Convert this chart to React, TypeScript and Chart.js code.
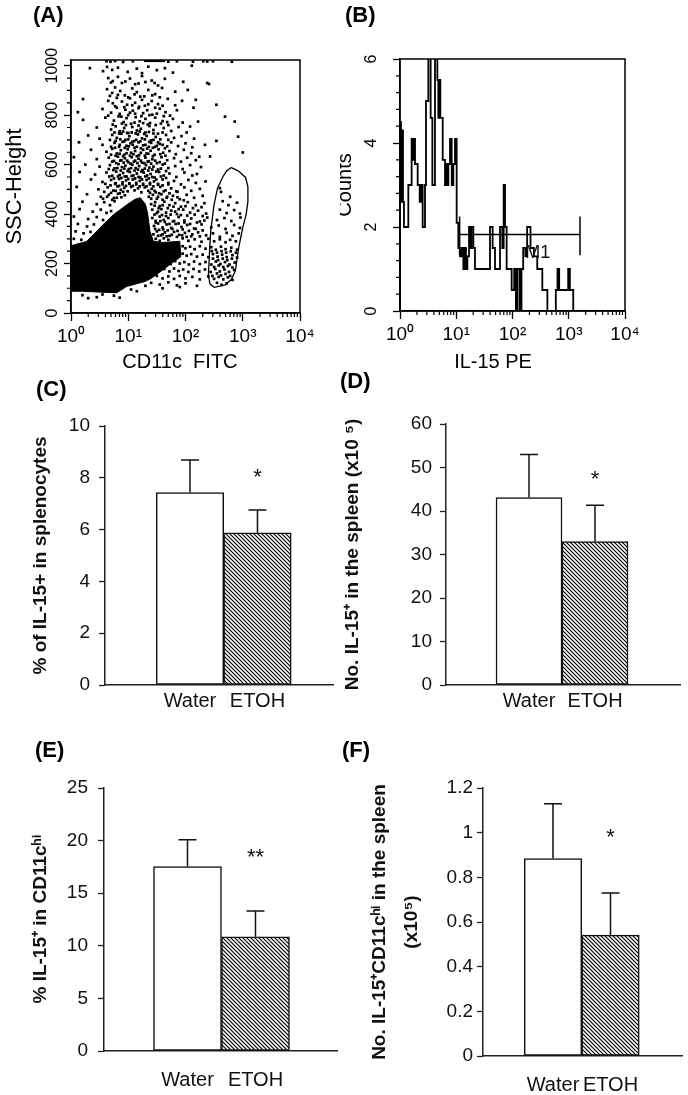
import React, { useEffect, useRef } from "react";
import { Chart, registerables } from "chart.js";

Chart.register(...registerables);
const FONT = "'Liberation Sans', Arial, Helvetica, sans-serif";
Chart.defaults.font.family = FONT;
Chart.defaults.color = "#000";

// ---------------- Panel A : SSC-Height vs CD11c FITC  ([log10 FITC, SSC]) ----------------
const dotsA: [number, number][] = [
  [0.62,1018],[0.69,1016],[0.77,1019],[0.91,1015],[1.08,1018],[1.30,1020],[1.34,1020],[1.38,1020],[1.42,1020],[1.46,1020],[1.50,1020],[1.54,1020],[1.58,1020],[1.62,1020],[1.70,1016],[1.85,1018],[2.13,1016],[2.31,1018],[2.38,1017],[2.48,1018],[2.81,1016],
  [0.33,990],[0.56,978],[0.63,995],[0.72,983],[0.82,992],[0.99,975],[1.15,988],[1.24,970],[1.35,996],[1.50,982],[1.64,990],[1.78,972],[2.11,1000],
  [0.65,950],[0.73,938],[0.82,955],[0.89,930],[1.03,948],[1.12,925],[1.24,958],[1.41,940],[1.52,920],[1.64,947],[1.96,935],[2.38,930],[2.41,926],
  [0.70,932],[0.95,936],[1.18,928],[1.30,934],[1.46,930],
  [0.63,905],[0.72,890],[0.77,912],[0.86,898],[0.94,880],[1.07,908],[1.15,893],[1.21,875],[1.35,902],[1.47,885],[1.59,910],[1.82,895],[2.04,902],
  [0.68,878],[0.82,882],[1.00,872],[1.11,884],[1.28,876],[1.42,880],[1.55,872],
  [0.21,865],[0.65,858],[0.73,848],[0.80,870],[0.89,855],[0.98,842],[1.03,868],[1.12,850],[1.24,862],[1.29,838],[1.41,857],[1.52,845],[1.69,866],[1.82,840],[1.94,858],[2.18,862],[2.54,842],
  [0.77,836],[0.93,832],[1.07,840],[1.19,834],[1.35,844],[1.47,830],[1.60,838],
  [0.12,812],[0.55,825],[0.70,810],[0.80,830],[0.85,805],[0.95,822],[1.00,800],[1.08,818],[1.18,828],[1.26,808],[1.33,820],[1.42,802],[1.55,826],[1.65,812],[1.73,798],[1.85,820],[2.14,830],
  [0.65,798],[0.88,794],[1.03,810],[1.12,806],[1.23,796],[1.37,800],[1.50,806],[1.62,796],
  [0.60,790],[0.75,778],[0.83,795],[0.92,772],[0.97,788],[1.05,765],[1.13,792],[1.20,775],[1.30,785],[1.38,768],[1.47,790],[1.60,776],[1.70,760],[1.78,785],[1.95,770],[2.69,794],[2.86,774],[2.22,774],
  [0.73,762],[0.89,766],[0.96,760],[1.11,770],[1.18,758],[1.26,768],[1.34,762],[1.48,760],[1.57,766],[1.68,772],
  [0.21,781],[0.45,750],[0.70,742],[0.78,755],[0.85,735],[0.93,748],[1.00,728],[1.07,752],[1.15,738],[1.22,745],[1.30,730],[1.37,756],[1.44,740],[1.52,725],[1.62,748],[1.75,736],[1.88,752],[2.02,730],[2.08,754],
  [0.76,730],[0.84,726],[0.91,734],[0.98,728],[1.06,730],[1.13,726],[1.20,734],[1.28,724],[1.36,732],[1.44,726],[1.60,730],
  [0.30,718],[0.50,705],[0.72,720],[0.80,708],[0.88,725],[0.95,700],[1.02,715],[1.10,695],[1.17,722],[1.24,706],[1.32,716],[1.40,698],[1.48,712],[1.56,702],[1.66,720],[1.80,708],[1.93,715],[2.15,705],[2.92,713],
  [0.68,700],[0.78,696],[0.86,702],[0.93,694],[1.00,702],[1.07,692],[1.14,700],[1.21,694],[1.29,702],[1.37,692],[1.44,700],[1.52,690],[1.70,700],
  [0.14,690],[0.55,680],[0.76,688],[0.84,672],[0.90,692],[0.97,676],[1.04,686],[1.11,668],[1.18,690],[1.26,678],[1.33,665],[1.40,688],[1.47,672],[1.55,684],[1.64,666],[1.75,690],[1.87,675],[2.00,686],[2.12,670],[2.34,680],[2.54,696],
  [0.70,672],[0.77,668],[0.85,680],[0.94,668],[1.01,674],[1.08,680],[1.15,672],[1.22,666],[1.30,680],[1.36,672],[1.43,668],[1.50,676],[1.60,680],[1.68,674],
  [0.35,660],[0.62,652],[0.72,664],[0.80,645],[0.87,658],[0.93,640],[0.99,662],[1.05,648],[1.12,655],[1.19,638],[1.26,660],[1.32,645],[1.39,656],[1.46,640],[1.53,662],[1.61,648],[1.72,655],[1.83,642],[1.97,660],[2.10,646],[3.00,649],
  [0.70,640],[0.78,636],[0.85,644],[0.91,634],[0.97,646],[1.03,636],[1.09,642],[1.15,634],[1.22,648],[1.29,636],[1.35,644],[1.43,634],[1.56,642],[1.65,636],
  [0.05,630],[0.45,622],[0.66,628],[0.75,615],[0.82,632],[0.88,618],[0.94,626],[1.00,610],[1.06,630],[1.12,616],[1.18,624],[1.24,608],[1.30,628],[1.36,614],[1.42,622],[1.50,606],[1.58,630],[1.68,618],[1.80,626],[1.92,612],[2.03,628],[2.18,618],[2.24,632],[2.43,633],
  [0.72,612],[0.79,606],[0.86,616],[0.92,608],[0.98,616],[1.04,604],[1.10,612],[1.16,606],[1.22,616],[1.28,606],[1.34,612],[1.40,604],[1.47,616],[1.55,610],[1.64,604],
  [0.25,600],[0.50,592],[0.68,598],[0.76,585],[0.83,602],[0.89,590],[0.95,596],[1.01,582],[1.07,600],[1.13,586],[1.19,594],[1.25,578],[1.31,598],[1.37,588],[1.44,592],[1.52,580],[1.60,600],[1.70,586],[1.82,594],[1.95,582],[2.08,598],[2.27,590],
  [0.66,582],[0.74,578],[0.81,586],[0.87,576],[0.93,584],[0.99,574],[1.05,586],[1.11,576],[1.17,580],[1.23,572],[1.29,584],[1.35,576],[1.42,580],[1.49,572],[1.57,584],[1.66,574],
  [0.15,570],[0.42,560],[0.62,568],[0.72,555],[0.79,572],[0.85,558],[0.91,566],[0.97,552],[1.03,570],[1.09,556],[1.15,564],[1.21,548],[1.27,568],[1.33,556],[1.39,562],[1.46,548],[1.54,570],[1.62,556],[1.72,564],[1.84,550],[1.98,568],[2.12,556],[2.20,562],
  [0.67,552],[0.75,544],[0.82,552],[0.88,546],[0.94,552],[1.00,542],[1.06,554],[1.12,544],[1.18,550],[1.24,540],[1.30,552],[1.36,544],[1.42,550],[1.49,540],[1.57,552],[1.66,546],
  [0.35,540],[0.55,530],[0.70,538],[0.78,525],[0.84,542],[0.90,528],[0.96,536],[1.02,522],[1.08,540],[1.14,526],[1.20,534],[1.26,518],[1.32,538],[1.38,526],[1.45,532],[1.52,518],[1.60,540],[1.70,526],[1.80,534],[1.92,520],[2.05,538],[2.18,526],[2.35,532],
  [0.60,522],[0.69,516],[0.77,522],[0.84,514],[0.90,520],[0.96,514],[1.02,524],[1.08,514],[1.14,520],[1.20,512],[1.26,522],[1.32,512],[1.38,520],[1.44,512],[1.52,522],[1.60,516],[1.70,520],
  [0.10,510],[0.48,500],[0.64,508],[0.74,495],[0.81,512],[0.87,498],[0.93,506],[0.99,492],[1.05,510],[1.11,496],[1.17,504],[1.23,488],[1.29,508],[1.35,494],[1.41,502],[1.48,488],[1.56,510],[1.65,496],[1.75,504],[1.86,490],[1.98,508],[2.10,494],[2.25,502],[2.60,505],
  [0.58,490],[0.70,486],[0.78,494],[0.85,484],[0.91,490],[1.38,486],[1.46,494],[1.54,484],[1.62,492],[1.72,484],[1.84,492],
  [0.28,480],[0.52,470],[0.66,478],[0.75,465],[0.82,482],[0.88,468],[0.94,476],[1.36,470],[1.43,478],[1.50,462],[1.58,480],[1.67,466],[1.78,474],[1.90,460],[2.02,478],[2.15,466],[2.30,474],[2.62,490],[2.78,470],
  [0.56,462],[0.63,470],[0.72,458],[0.80,466],[1.40,462],[1.52,470],[1.60,458],[1.68,470],[1.76,458],[1.86,468],[1.97,456],
  [0.20,450],[0.45,440],[0.58,448],[0.68,436],[0.76,452],[1.40,440],[1.47,448],[1.55,432],[1.63,450],[1.72,436],[1.82,444],[1.92,430],[2.04,448],[2.18,436],[2.33,444],[2.65,452],[2.75,436],[2.90,446],
  [1.46,434],[1.53,424],[1.60,436],[1.69,424],[1.79,430],[1.88,420],[2.00,432],[2.13,424],[2.28,428],
  [0.15,420],[0.38,410],[0.52,418],[0.62,405],[0.70,412],[1.42,418],[1.50,404],[1.58,420],[1.66,406],[1.75,414],[1.85,400],[1.96,418],[2.08,406],[2.22,414],[2.36,402],[2.60,418],[2.72,404],[2.85,416],[2.95,402],
  [1.46,398],[1.52,410],[1.59,396],[1.66,392],[1.74,398],[1.82,410],[1.92,396],[2.03,394],[2.16,398],[2.30,392],
  [0.05,390],[0.30,380],[0.45,388],[0.56,376],[1.42,384],[1.48,372],[1.55,390],[1.62,376],[1.70,384],[1.78,370],[1.88,388],[1.98,374],[2.10,382],[2.25,370],[2.38,386],[2.55,376],[2.68,384],[2.80,372],[2.96,386],
  [1.48,366],[1.56,372],[1.64,368],[1.72,360],[1.80,372],[1.88,362],[1.98,366],[2.08,360],[2.20,366],[2.33,374],
  [0.12,360],[0.28,350],[0.40,358],[1.45,352],[1.52,362],[1.60,346],[1.67,358],[1.75,344],[1.83,360],[1.93,348],[2.03,356],[2.15,342],[2.28,358],[2.45,346],[2.58,354],[2.70,340],[2.85,356],[2.95,344],
  [1.47,340],[1.54,336],[1.61,338],[1.69,334],[1.77,340],[1.86,332],[1.95,338],[2.06,332],[2.18,340],[2.30,334],
  [0.08,330],[0.22,322],[0.34,328],[1.44,318],[1.50,330],[1.57,314],[1.64,326],[1.72,312],[1.80,328],[1.89,316],[1.99,324],[2.10,310],[2.22,326],[2.36,314],[2.48,322],[2.60,308],[2.72,324],[2.82,312],[2.93,322],
  [1.52,312],[1.60,318],[1.67,310],[1.76,316],[1.85,308],[1.94,314],[2.02,308],[2.12,318],[2.25,310],
  [0.05,300],[0.18,296],[1.48,300],[1.55,292],[1.62,302],[1.70,296],[1.95,302],[2.05,292],[2.16,298],[2.28,288],[2.40,300],[2.50,290],[2.60,298],[2.70,286],[2.78,296],[2.88,290],
  [1.95,270],[2.00,262],[2.08,268],[2.16,258],[2.25,270],[2.35,260],[2.45,266],[2.53,256],[2.62,268],[2.70,258],[2.80,264],[2.90,256],
  [2.46,250],[2.55,244],[2.63,250],[2.71,244],[2.79,250],[2.88,244],
  [1.95,240],[2.02,232],[2.10,238],[2.20,228],[2.30,236],[2.40,226],[2.48,238],[2.56,228],[2.64,236],[2.72,226],[2.82,234],[2.90,224],
  [2.48,220],[2.57,214],[2.65,220],[2.73,214],[2.81,220],
  [1.50,210],[1.58,202],[1.66,208],[1.74,198],[1.82,210],[1.90,200],[1.98,206],[2.06,196],[2.15,208],[2.25,198],[2.35,206],[2.45,196],[2.53,208],[2.61,198],[2.69,206],[2.77,196],[2.86,204],
  [2.50,186],[2.58,192],[2.66,186],[2.74,190],[2.82,184],
  [1.48,180],[1.55,172],[1.63,178],[1.72,168],[1.80,180],[1.88,170],[1.96,176],[2.05,166],[2.14,178],[2.24,168],[2.34,176],[2.44,166],[2.52,178],[2.60,168],[2.68,176],[2.76,166],[2.85,174],
  [2.47,150],[2.55,160],[2.62,152],[2.70,158],[2.78,150],
  [1.50,150],[1.60,140],[1.70,148],[1.80,138],[1.90,150],[2.00,140],[2.12,146],[2.25,136],[2.40,148],[2.50,138],[2.58,146],[2.66,136],[2.74,144],[2.82,134],
  [1.40,122],[1.55,115],[1.70,124],[1.85,112],[2.00,120],[2.20,110],[2.55,122],[2.63,114],[2.72,120],
  [0.20,72],[0.45,64],[0.75,70],[1.05,95],[1.30,110],[1.60,100],[1.90,105],[0.30,60],[0.55,75],[0.85,62],[1.15,88],
];
// outline of the saturated (solid black) population
const blobA: [number, number][] = [
  [0,272],[0.27,289],[0.39,316],[0.56,357],[0.74,397],[0.97,437],[1.12,460],[1.21,466],[1.30,440],[1.34,400],
  [1.38,330],[1.44,290],[1.60,285],[1.90,290],[1.92,228],[1.75,200],[1.55,165],[1.40,140],[1.30,128],[0.97,107],
  [0.80,82],[0.55,84],[0.20,88],[0,88],[0,272],
];
// CD11c-high gate
const gateA: [number, number][] = [
  [2.80,588],[2.92,575],[3.05,548],[3.09,510],[3.09,450],[3.06,400],[3.00,345],[2.93,265],[2.87,170],[2.80,135],
  [2.69,114],[2.50,104],[2.43,117],[2.40,150],[2.42,250],[2.44,330],[2.50,440],[2.56,505],[2.65,550],[2.72,575],[2.80,588],
];
const sscTicks = [0, 200, 400, 600, 800, 1000];
const decadeTicks = [1, 10, 100, 1000, 10000];

// ---------------- Panel B : IL-15 PE histogram ([log10 PE, counts], step starts) ----------------
const histB: [number, number][] = [
  [0.000,0],[0.000,4.5],[0.018,2.6],[0.036,4.3],[0.053,2.6],[0.071,2.0],[0.148,3.0],[0.207,4.1],[0.231,3.6],[0.249,4.1],
  [0.267,3.5],[0.314,3.0],[0.350,2.6],[0.373,3.0],[0.403,2.0],[0.444,3.0],[0.462,5.0],[0.504,6.5],[0.545,4.6],[0.575,3.0],
  [0.622,6.5],[0.664,5.5],[0.681,4.6],[0.699,5.5],[0.717,4.6],[0.759,3.6],[0.800,3.0],[0.818,3.5],[0.836,3.0],[0.859,3.5],
  [0.889,4.1],[0.919,3.0],[0.948,3.5],[0.978,4.1],[1.007,2.1],[1.037,1.5],[1.067,1.3],[1.096,1.5],[1.126,1.0],[1.150,1.5],
  [1.173,1.0],[1.198,1.3],[1.227,2.0],[1.250,1.5],[1.270,2.0],[1.304,1.5],[1.333,1.0],[1.600,2.0],[1.647,1.5],[1.689,1.0],
  [1.778,2.0],[1.819,1.5],[1.843,3.0],[1.867,2.0],[1.896,1.0],[1.985,0.5],[2.030,1.0],[2.060,0.0],[2.090,1.0],[2.130,0.0],
  [2.160,1.0],[2.190,1.5],[2.230,1.3],[2.260,2.0],[2.320,1.5],[2.380,1.3],[2.440,1.0],[2.530,0.5],[2.620,0.0],[2.770,0.5],
  [2.800,1.0],[2.830,0.5],[2.990,1.0],[3.020,0.5],[3.080,0.0],[4.000,0.0],
];
const m1Range = [1.06, 3.2];
const m1Level = 1.82;
const m1Caps = [1.33, 2.25];
const countTicks = [0, 2, 4, 6];

// ---------------- Bar panels C-F ----------------
const groups = ["Water", "ETOH"];
const pctSplenocytes = [7.43, 5.88];
const pctSplenocytesErr = [1.26, 0.88];
const numSpleen = [43.1, 32.95];
const numSpleenErr = [9.9, 8.35];
const pctCD11c = [17.53, 10.86];
const pctCD11cErr = [2.55, 2.45];
const numCD11c = [0.884, 0.541];
const numCD11cErr = [0.246, 0.189];
const sigMarks = ["*", "*", "**", "*"];
const sigLevels = [8.17, 48.3, 18.8, 1.0];

const SUP = ["\u2070", "\u00b9", "\u00b2", "\u00b3", "\u2074"];
const toXY = ([l, v]: [number, number]) => ({ x: Math.pow(10, l), y: v });

const logMinors: number[] = [];
for (let e = 0; e < 4; e++) for (let m = 2; m <= 9; m++) logMinors.push(m * Math.pow(10, e));
const sscMinors: number[] = [];
for (let v = 50; v < 1000; v += 50) if (v % 200 !== 0) sscMinors.push(v);
const countMinors: number[] = [];
for (let k = 1; k < 15; k++) if (k % 5 !== 0) countMinors.push(k * 0.4);

const extras = {
  id: "extras",
  afterDraw(chart: any, _a: any, o: any) {
    const ctx = chart.ctx;
    const ca = chart.chartArea;
    const xs = chart.scales.x;
    const ys = chart.scales.y;
    ctx.save();
    ctx.strokeStyle = "#000";
    ctx.fillStyle = "#000";
    if (o.frame) {
      ctx.lineWidth = 1.5;
      ctx.strokeRect(ca.left, ca.top, ca.right - ca.left, ca.bottom - ca.top);
    }
    if (o.minorX) {
      ctx.lineWidth = 1.2;
      ctx.beginPath();
      for (const v of o.minorX) {
        const p = xs.getPixelForValue(v);
        ctx.moveTo(p, ca.bottom);
        ctx.lineTo(p, ca.bottom + o.minorLen);
      }
      ctx.stroke();
    }
    if (o.minorY) {
      ctx.lineWidth = 1.2;
      ctx.beginPath();
      for (const v of o.minorY) {
        const p = ys.getPixelForValue(v);
        ctx.moveTo(ca.left, p);
        ctx.lineTo(ca.left - o.minorLen, p);
      }
      ctx.stroke();
    }
    if (o.rotY) {
      ctx.font = `${o.rotY.size}px ${FONT}`;
      ctx.textAlign = "center";
      ctx.textBaseline = "middle";
      for (const v of o.rotY.values) {
        ctx.save();
        ctx.translate(ca.left - o.rotY.offset, ys.getPixelForValue(v));
        ctx.rotate(-Math.PI / 2);
        ctx.fillText(String(v), 0, 0);
        ctx.restore();
      }
    }
    if (o.err) {
      const meta = chart.getDatasetMeta(0);
      const vals = chart.data.datasets[0].data;
      ctx.lineWidth = 1.5;
      ctx.strokeStyle = "#111";
      meta.data.forEach((bar: any, i: number) => {
        const yTop = ys.getPixelForValue(vals[i].y + o.err[i]);
        ctx.beginPath();
        ctx.moveTo(bar.x, bar.y);
        ctx.lineTo(bar.x, yTop);
        ctx.moveTo(bar.x - o.cap / 2, yTop);
        ctx.lineTo(bar.x + o.cap / 2, yTop);
        ctx.stroke();
      });
    }
    if (o.notes) {
      for (const n of o.notes) {
        ctx.font = `${n.size}px ${FONT}`;
        ctx.textAlign = "center";
        ctx.textBaseline = "middle";
        ctx.fillStyle = "#111";
        ctx.fillText(n.text, xs.getPixelForValue(n.x), ys.getPixelForValue(n.y) + (n.dy || 0));
      }
    }
    if (o.letter) {
      ctx.font = `bold 22px ${FONT}`;
      ctx.textAlign = "left";
      ctx.textBaseline = "middle";
      ctx.fillStyle = "#000";
      ctx.fillText(o.letter.text, o.letter.x, o.letter.y);
    }
    ctx.restore();
  },
};

function logAxis(title: string, height: number, titlePadBottom: number) {
  return {
    type: "logarithmic",
    min: 1,
    max: 10000,
    afterBuildTicks: (s: any) => {
      s.ticks = decadeTicks.map((v) => ({ value: v }));
    },
    afterFit: (s: any) => {
      s.height = height;
    },
    grid: { drawOnChartArea: false, drawTicks: true, tickLength: 8, tickColor: "#000", tickWidth: 1.3 },
    border: { display: true, color: "#000", width: 1.5 },
    ticks: {
      autoSkip: false,
      maxRotation: 0,
      padding: 4,
      font: { size: 19 },
      callback: (v: number) => "10" + SUP[Math.round(Math.log10(v))],
    },
    title: { display: true, text: title, font: { size: 20 }, padding: { top: 0, bottom: titlePadBottom } },
  };
}

function countAxis(max: number, ticks: number[], width: number, title: string, titleSize: number, titlePad: number) {
  return {
    type: "linear",
    min: 0,
    max,
    afterBuildTicks: (s: any) => {
      s.ticks = ticks.map((v) => ({ value: v }));
    },
    afterFit: (s: any) => {
      s.width = width;
    },
    grid: { drawOnChartArea: false, tickLength: 7, tickColor: "#000", tickWidth: 1.3 },
    border: { display: true, color: "#000", width: 1.5 },
    ticks: { display: false },
    title: { display: true, text: title, font: { size: titleSize }, padding: { top: titlePad, bottom: 0 } },
  };
}

function buildA() {
  return {
    type: "scatter",
    data: {
      datasets: [
        { data: blobA.map(toXY), showLine: true, fill: "shape", backgroundColor: "#000", borderColor: "#000", borderWidth: 1, pointRadius: 0 },
        { data: dotsA.map(toXY), pointStyle: "rect", pointRadius: 1.9, backgroundColor: "#000", borderWidth: 0 },
        { data: gateA.map(toXY), showLine: true, fill: false, borderColor: "#000", borderWidth: 1.3, pointRadius: 0 },
      ],
    },
    options: {
      responsive: false,
      animation: false,
      events: [],
      layout: { padding: { left: 0, right: 40, top: 60, bottom: 10 } },
      plugins: {
        legend: { display: false },
        tooltip: { enabled: false },
        extras: {
          frame: true,
          minorX: logMinors,
          minorY: sscMinors,
          minorLen: 4,
          rotY: { values: sscTicks, offset: 18.5, size: 16 },
          letter: { text: "(A)", x: 33, y: 16 },
        },
      },
      scales: {
        x: logAxis("CD11c  FITC\u00a0\u00a0", 62, 1),
        y: countAxis(1023, sscTicks, 71, "SSC-Height", 22, 2),
      },
    },
    plugins: [extras],
  };
}

function buildB() {
  const line = { showLine: true, fill: false, borderColor: "#000", borderWidth: 1.5, pointRadius: 0 };
  return {
    type: "scatter",
    data: {
      datasets: [
        { ...line, data: histB.map(toXY), stepped: true, borderWidth: 1.8 },
        { ...line, data: ([[m1Range[0], m1Level], [m1Range[1], m1Level]] as [number, number][]).map(toXY) },
        { ...line, data: ([[m1Range[0], m1Caps[0]], [m1Range[0], m1Caps[1]]] as [number, number][]).map(toXY) },
        { ...line, data: ([[m1Range[1], m1Caps[0]], [m1Range[1], m1Caps[1]]] as [number, number][]).map(toXY) },
      ],
    },
    options: {
      responsive: false,
      animation: false,
      events: [],
      layout: { padding: { left: 0, right: 63, top: 59, bottom: 10 } },
      plugins: {
        legend: { display: false },
        tooltip: { enabled: false },
        extras: {
          frame: true,
          minorX: logMinors,
          minorY: countMinors,
          minorLen: 4,
          rotY: { values: countTicks, offset: 28.5, size: 16 },
          notes: [{ text: "M1", x: Math.pow(10, 2.45), y: 1.38, size: 18 }],
          letter: { text: "(B)", x: 5, y: 16 },
        },
      },
      scales: {
        x: logAxis("IL-15 PE" + "\u00a0".repeat(7), 64, 1),
        y: countAxis(6, countTicks, 60, "Counts", 20, -7),
      },
    },
    plugins: [extras],
  };
}

function makeHatch(): CanvasPattern | string {
  const s = 4;
  const c = document.createElement("canvas");
  c.width = s;
  c.height = s;
  const g = c.getContext("2d");
  if (!g) return "#888";
  g.fillStyle = "#fff";
  g.fillRect(0, 0, s, s);
  g.strokeStyle = "#000";
  g.lineWidth = 1.2;
  g.beginPath();
  g.moveTo(-1, -1);
  g.lineTo(s + 1, s + 1);
  g.moveTo(-1, s - 1);
  g.lineTo(1, s + 1);
  g.moveTo(s - 1, -1);
  g.lineTo(s + 1, 1);
  g.stroke();
  return g.createPattern(c, "repeat") || "#888";
}

type BarSpec = {
  mean: number[];
  err: number[];
  sig: string;
  sigY: number;
  yMax: number;
  step: number;
  title: string | string[];
  titlePad: number;
  titleLH: number;
  tickPad: number;
  xPad: number;
  xMin: number;
  xMax: number;
  pad: { left: number; right: number; top: number; bottom: number };
  yW: number;
  xH: number;
  letter: { text: string; x: number; y: number };
};

function buildBar(p: BarSpec) {
  const hatch = makeHatch();
  return {
    type: "bar",
    data: {
      datasets: [
        {
          data: groups.map((_, i) => ({ x: i + 1, y: p.mean[i] })),
          backgroundColor: ["#fff", hatch],
          borderColor: "#111",
          borderWidth: 1.5,
          borderSkipped: false,
          barPercentage: 1,
          categoryPercentage: 1,
        },
      ],
    },
    options: {
      responsive: false,
      animation: false,
      events: [],
      layout: { padding: p.pad },
      plugins: {
        legend: { display: false },
        tooltip: { enabled: false },
        extras: {
          err: p.err,
          cap: 18,
          notes: [{ text: p.sig, x: 2, y: p.sigY, size: 22, dy: 5 }],
          letter: p.letter,
        },
      },
      scales: {
        x: {
          type: "linear",
          offset: false,
          bounds: "data",
          min: p.xMin,
          max: p.xMax,
          afterBuildTicks: (s: any) => {
            s.ticks = groups.map((_, i) => ({ value: i + 1 }));
          },
          afterFit: (s: any) => {
            s.height = p.xH;
          },
          grid: { display: false, drawTicks: false, offset: false },
          border: { display: true, color: "#222", width: 1.5 },
          ticks: {
            autoSkip: false,
            maxRotation: 0,
            padding: p.xPad,
            font: { size: 20 },
            color: "#111",
            callback: (v: number) => groups[Math.round(v) - 1] ?? "",
          },
        },
        y: {
          type: "linear",
          min: 0,
          max: p.yMax,
          afterFit: (s: any) => {
            s.width = p.yW;
          },
          grid: { drawOnChartArea: false, drawTicks: true, tickLength: 6, tickColor: "#222", tickWidth: 1.3 },
          border: { display: true, color: "#222", width: 1.5 },
          ticks: {
            stepSize: p.step,
            padding: p.tickPad,
            font: { size: 19 },
            color: "#111",
            callback: (v: number) => String(Math.round(v * 100) / 100),
          },
          title: {
            display: true,
            text: p.title,
            color: "#111",
            font: { size: 19, weight: "bold", lineHeight: p.titleLH },
            padding: { top: p.titlePad, bottom: 0 },
          },
        },
      },
    },
    plugins: [extras],
  };
}

function Panel({ x, y, w, h, build }: { x: number; y: number; w: number; h: number; build: () => any }) {
  const ref = useRef<HTMLCanvasElement>(null);
  useEffect(() => {
    if (!ref.current) return;
    const chart = new Chart(ref.current, build());
    return () => chart.destroy();
  }, []);
  return (
    <canvas
      ref={ref}
      width={w}
      height={h}
      style={{ position: "absolute", left: x, top: y, width: w, height: h, display: "block" }}
    />
  );
}

export default function App() {
  return (
    <div style={{ position: "absolute", left: 0, top: 0, width: 688, height: 1095, background: "#fff", overflow: "hidden" }}>
      <Panel x={0} y={0} w={340} h={385} build={buildA} />
      <Panel x={340} y={0} w={348} h={385} build={buildB} />
      <Panel
        x={0}
        y={360}
        w={340}
        h={370}
        build={() =>
          buildBar({
            mean: pctSplenocytes,
            err: pctSplenocytesErr,
            sig: sigMarks[0],
            sigY: sigLevels[0],
            yMax: 10,
            step: 2,
            title: "% of IL-15+ in splenocytes",
            titlePad: 29,
            titleLH: 1.2,
            tickPad: 9,
            xPad: 4,
            xMin: -0.259,
            xMax: 3.119,
            pad: { left: 0, right: 7, top: 66, bottom: 10 },
            yW: 105,
            xH: 35,
            letter: { text: "(C)", x: 36, y: 30 },
          })
        }
      />
      <Panel
        x={340}
        y={360}
        w={348}
        h={370}
        build={() =>
          buildBar({
            mean: numSpleen,
            err: numSpleenErr,
            sig: sigMarks[1],
            sigY: sigLevels[1],
            yMax: 60,
            step: 10,
            title: "No. IL-15\u207a in the spleen (x10 \u2075)",
            titlePad: 1,
            titleLH: 1.2,
            tickPad: 8,
            xPad: 4,
            xMin: -0.258,
            xMax: 3.288,
            pad: { left: 0, right: 8, top: 64, bottom: 10 },
            yW: 106,
            xH: 35,
            letter: { text: "(D)", x: 0, y: 22 },
          })
        }
      />
      <Panel
        x={0}
        y={715}
        w={340}
        h={380}
        build={() =>
          buildBar({
            mean: pctCD11c,
            err: pctCD11cErr,
            sig: sigMarks[2],
            sigY: sigLevels[2],
            yMax: 25,
            step: 5,
            title: "% IL-15\u207a in CD11c\u02b0\u2071",
            titlePad: 29,
            titleLH: 1.2,
            tickPad: 10,
            xPad: 17,
            xMin: -0.228,
            xMax: 3.199,
            pad: { left: 0, right: 3, top: 73, bottom: 4 },
            yW: 104,
            xH: 40,
            letter: { text: "(E)", x: 35, y: 36 },
          })
        }
      />
      <Panel
        x={340}
        y={715}
        w={348}
        h={380}
        build={() =>
          buildBar({
            mean: numCD11c,
            err: numCD11cErr,
            sig: sigMarks[3],
            sigY: sigLevels[3],
            yMax: 1.2,
            step: 0.2,
            title: ["No. IL-15\u207aCD11c\u02b0\u2071 in the spleen", "(x10\u2075)"],
            titlePad: 24,
            titleLH: 32 / 19,
            tickPad: 4,
            xPad: 17,
            xMin: -0.217,
            xMax: 3.243,
            pad: { left: 0, right: 6, top: 73, bottom: 4 },
            yW: 143,
            xH: 35,
            letter: { text: "(F)", x: 2, y: 36 },
          })
        }
      />
    </div>
  );
}
